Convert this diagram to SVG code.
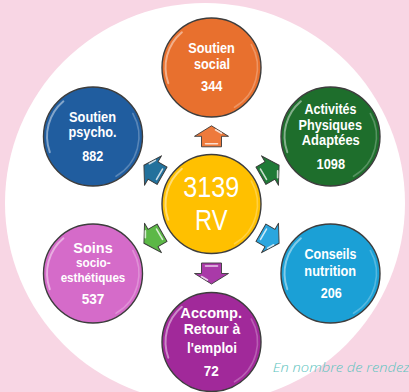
<svg xmlns="http://www.w3.org/2000/svg" xmlns:xlink="http://www.w3.org/1999/xlink" width="409" height="392" viewBox="0 0 409 392">
<style>
.node{stroke:#3d3d3d;stroke-width:1.4}
.gl{fill:none;stroke:#fff;stroke-width:2;stroke-opacity:0.45;stroke-linecap:round}
.gl2{fill:none;stroke:#fff;stroke-width:1.6;stroke-opacity:0.25;stroke-linecap:round}
.t{font-family:"Liberation Sans",Arial,sans-serif;font-weight:bold;fill:#fff;text-anchor:middle;font-size:15px}
.m{font-size:14px}
.n{font-size:14.5px}
.s{font-size:13px}
.c{font-family:"Liberation Sans",Arial,sans-serif;fill:#fff;text-anchor:middle;font-size:29px}
.ar{stroke:#3a3a3a;stroke-width:0.9;stroke-linejoin:round}
.ah{fill:none;stroke:#fff;stroke-opacity:0.75;stroke-width:1.6;stroke-linecap:round}
.note{font-family:"Open Sans","Noto Sans",sans-serif;font-style:italic;font-weight:300;font-size:12.5px;fill:#5cc4c0}
</style>
<defs>
<g id="gloss">
<path class="gl" d="M-43.2,15.7 A46,46 0 0 1 -29.6,-35.2"/>
<path class="gl2" d="M39.8,-23 A46,46 0 0 1 23,39.8"/>
</g>
<path id="arrow" d="M0,-10.5 L17,0 L10,0 L10,10.5 L-10,10.5 L-10,0 L-17,0 Z"/>
<g id="arrowhl">
<path class="ah" d="M4,-6.5 L10,-3"/>
<path class="ah" d="M-6,7.5 L6,7.5"/>
</g>
</defs>
<rect width="409" height="392" fill="#f8d6e4"/>
<circle cx="205" cy="203" r="200" fill="#ffffff"/>

<g id="connectors">
<g transform="translate(211.5,136.3)"><use href="#arrow" class="ar" fill="#ee7a3c"/><use href="#arrowhl"/></g>
<g transform="translate(153,170.5) rotate(-60)"><use href="#arrow" class="ar" fill="#22719c"/><use href="#arrowhl"/></g>
<g transform="translate(270,170.5) rotate(60)"><use href="#arrow" class="ar" fill="#1f7a37"/><use href="#arrowhl"/></g>
<g transform="translate(153,238) rotate(-120)"><use href="#arrow" class="ar" fill="#5cb847"/><use href="#arrowhl"/></g>
<g transform="translate(270,238) rotate(120)"><use href="#arrow" class="ar" fill="#2aa6df"/><use href="#arrowhl"/></g>
<g transform="translate(211.5,273.5) rotate(180)"><use href="#arrow" class="ar" fill="#a93aa8"/><use href="#arrowhl"/></g>
</g>

<g id="center">
<circle class="node" cx="211.5" cy="204" r="49.5" fill="#ffc000"/>
<use href="#gloss" x="211.5" y="204"/>
<text class="c" x="211.3" y="196.7" textLength="56" lengthAdjust="spacingAndGlyphs">3139</text>
<text class="c" x="211.3" y="229.5" textLength="32.5" lengthAdjust="spacingAndGlyphs">RV</text>
</g>

<g id="soutien-social">
<circle class="node" cx="211.5" cy="67.5" r="49.5" fill="#e8702e"/>
<use href="#gloss" x="211.5" y="67.5"/>
<text class="t" x="211.5" y="53.3" textLength="46.5" lengthAdjust="spacingAndGlyphs">Soutien</text>
<text class="t" x="212" y="69" textLength="36" lengthAdjust="spacingAndGlyphs">social</text>
<text class="t n" x="211.8" y="91.3" textLength="21.5" lengthAdjust="spacingAndGlyphs">344</text>
</g>

<g id="soutien-psycho">
<circle class="node" cx="93" cy="136.5" r="49.5" fill="#205d9f"/>
<use href="#gloss" x="93" y="136.5"/>
<text class="t m" x="92.5" y="122" textLength="47" lengthAdjust="spacingAndGlyphs">Soutien</text>
<text class="t m" x="92.5" y="137.3" textLength="48" lengthAdjust="spacingAndGlyphs">psycho.</text>
<text class="t n" x="92.8" y="160.5" textLength="21" lengthAdjust="spacingAndGlyphs">882</text>
</g>

<g id="activites">
<circle class="node" cx="330.5" cy="136.5" r="49.5" fill="#1e6e2c"/>
<use href="#gloss" x="330.5" y="136.5"/>
<text class="t m" x="330.5" y="114.3" textLength="52" lengthAdjust="spacingAndGlyphs">Activités</text>
<text class="t m" x="330.2" y="129.6" textLength="63.5" lengthAdjust="spacingAndGlyphs">Physiques</text>
<text class="t m" x="330.8" y="145.3" textLength="58" lengthAdjust="spacingAndGlyphs">Adaptées</text>
<text class="t n" x="330.8" y="168.5" textLength="28.5" lengthAdjust="spacingAndGlyphs">1098</text>
</g>

<g id="soins">
<circle class="node" cx="93" cy="273.5" r="49.5" fill="#d56bc9"/>
<use href="#gloss" x="93" y="273.5"/>
<text class="t" x="93" y="253.3" textLength="39.4" lengthAdjust="spacingAndGlyphs">Soins</text>
<text class="t s" x="93.3" y="267" textLength="34.7" lengthAdjust="spacingAndGlyphs">socio-</text>
<text class="t s" x="93" y="281.5" textLength="64.7" lengthAdjust="spacingAndGlyphs">esthétiques</text>
<text class="t n" x="93" y="304" textLength="22.7" lengthAdjust="spacingAndGlyphs">537</text>
</g>

<g id="conseils">
<circle class="node" cx="330.5" cy="273.5" r="49.5" fill="#1ba0d6"/>
<use href="#gloss" x="330.5" y="273.5"/>
<text class="t" x="330.5" y="259.3" textLength="52" lengthAdjust="spacingAndGlyphs">Conseils</text>
<text class="t" x="330.2" y="276" textLength="51.7" lengthAdjust="spacingAndGlyphs">nutrition</text>
<text class="t n" x="331.2" y="298.3" textLength="21" lengthAdjust="spacingAndGlyphs">206</text>
</g>

<g id="accomp">
<circle class="node" cx="211.5" cy="342" r="49.5" fill="#a1299a"/>
<use href="#gloss" x="211.5" y="342"/>
<text class="t m" x="211.2" y="318" textLength="61.7" lengthAdjust="spacingAndGlyphs">Accomp.</text>
<text class="t m" x="212" y="333.7" textLength="56.7" lengthAdjust="spacingAndGlyphs">Retour à</text>
<text class="t" x="212" y="353" textLength="50" lengthAdjust="spacingAndGlyphs">l'emploi</text>
<text class="t n" x="211.2" y="376" textLength="15" lengthAdjust="spacingAndGlyphs">72</text>
</g>

<text class="note" x="272.7" y="371.7" textLength="137" lengthAdjust="spacingAndGlyphs">En nombre de rendez</text>
</svg>
